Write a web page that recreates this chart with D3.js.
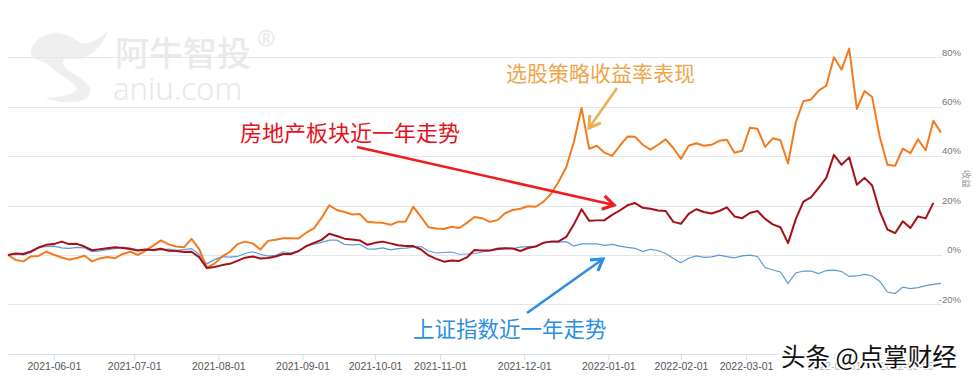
<!DOCTYPE html>
<html><head><meta charset="utf-8">
<script src="https://cdn.jsdelivr.net/npm/d3@7"></script>
<style>html,body{margin:0;padding:0;background:#fff;} svg{display:block;}</style>
</head><body>
<svg id="c" width="974" height="382"></svg>
<script>
// one value every 2 trading days, starting 2021-05-14 (percent)
const strategy = [0,-2.0,-2.6,-0.6,-0.4,1.4,0.1,-1.0,-1.9,-1.2,
-0.3,-2.6,-1.4,-0.8,-1.3,0.4,1.3,0.0,1.8,3.8,
5.9,4.3,3.4,3.1,6.5,2.4,-5.1,-3.5,-0.6,1.2,
4.4,5.4,4.7,2.2,5.7,6.2,6.8,6.8,6.7,9.0,
10.8,15.0,20.1,18.2,17.4,16.4,16.6,13.4,13.1,13.0,
12.2,13.4,13.5,19.5,15.4,11.2,10.7,10.5,11.4,10.9,
13.0,15.4,14.9,13.4,14.1,16.9,18.2,18.7,19.7,19.5,
21.5,24.7,29.6,35.5,45.8,59.5,43.0,44.2,41.4,40.1,
44.2,47.9,47.8,44.6,42.6,44.6,46.8,43.3,38.9,44.2,
45.2,44.2,44.6,46.2,46.6,41.4,42.2,51.5,51.1,43.8,
47.2,46.4,37.0,53.5,62.2,62.9,66.5,68.5,80.0,75.0,
83.5,59.1,66.3,63.9,47.6,36.5,36.1,43.0,41.2,46.8,
42.4,54.3,49.5];
const realEstate = [0,0.6,0.4,1.4,3.0,4.1,4.4,5.4,4.4,4.5,
3.4,1.9,2.3,2.7,3.1,2.8,2.4,1.8,2.2,2.0,
2.5,1.7,1.6,1.2,1.3,-0.9,-5.3,-4.9,-4.1,-3.6,
-2.4,-1.1,-0.6,-1.4,-1.2,-0.6,0.4,0.4,1.6,3.6,
4.9,6.1,8.6,7.7,6.6,6.3,5.9,4.1,4.9,5.4,
4.7,3.9,3.6,3.6,2.2,-0.2,-1.6,-2.7,-2.2,-2.4,
-1.0,2.0,1.8,1.8,2.4,2.6,2.6,1.6,2.8,3.4,
4.9,5.4,5.5,7.3,12.4,18.5,13.8,14.0,14.1,16.2,
18.0,20.1,21.0,19.1,18.7,18.0,17.8,13.4,12.6,16.6,
18.5,17.4,16.8,17.8,19.3,15.6,14.9,17.0,17.8,14.6,
12.4,11.2,4.8,14.4,21.6,23.3,27.2,31.2,40.5,36.5,
39.5,28.4,31.2,28.1,17.6,10.3,8.8,13.6,10.9,15.6,
14.8,21.1,null];
const sse = [0,0.4,0,1.0,3.2,3.4,3.6,2.9,2.7,3.1,
2.9,1.3,1.6,2.1,2.6,3.2,2.8,2.0,2.0,1.7,
2.1,2.4,1.9,2.2,2.6,0.2,-3.6,-1.9,-0.7,-0.9,
-0.6,0.6,1.3,0.3,-0.5,-0.2,1.3,0.8,1.6,3.5,
4.4,5.1,6.0,6.0,4.3,4.1,4.3,2.5,2.4,2.9,
2.1,2.6,2.8,3.2,3.4,1.6,0.8,1.0,1.2,0.3,
0.4,0.6,1.2,1.7,2.8,3.0,2.6,3.2,3.4,3.6,
4.9,5.4,5.2,5.4,3.6,4.5,4.5,4.5,3.9,4.3,
3.6,3.1,2.7,1.4,2.3,1.8,0.6,-1.4,-3.2,-1.3,
-0.4,-1.0,-0.8,-0.1,-0.7,-1.2,-0.4,-0.1,-0.6,-5.1,
-6.1,-6.9,-11.5,-7.3,-6.5,-6.5,-7.5,-6.3,-6.1,-6.7,
-8.7,-8.5,-7.9,-8.5,-10.7,-15.0,-15.6,-13.0,-13.6,-13.2,
-12.4,-11.9,-11.5];
const tickLabels = ["2021-06-01","2021-07-01","2021-08-01","2021-09-01","2021-10-01","2021-11-01","2021-12-01","2022-01-01","2022-02-01","2022-03-01","2022-04-01","2022-05-05"];
const tickDays = [12,33,55,77,96,113,135,157,176,193,216,235];
const yTicks = [-20,0,20,40,60,80];
const dayStep = 2, lastDay = 244;

const svg = d3.select("#c");
const x = d3.scaleLinear().domain([0, lastDay]).range([8, 941]);
const y = d3.scaleLinear().domain([-40, 80]).range([353.8, 57.3]);

// watermark logo (behind)
const wm = svg.append("g");
wm.append("path")
  .attr("d","M31,52 C33,36 58,26 76,40 C86,48 96,41 108,31 C101,50 86,61 70,59 C62,58 59,63 69,71 C86,81 97,89 86,99 C76,104 56,103 45,98 C60,97 74,95 77,89 C74,81 55,73 48,64 C40,60 31,60 31,52 Z")
  .attr("fill","#efefef");
wm.append("text").attr("x",115).attr("y",66).text("阿牛智投")
  .attr("font-family","Noto Sans CJK SC").attr("font-size",34).attr("font-weight",500).attr("fill","#eaeaea");
wm.append("text").attr("x",257).attr("y",46).text("®")
  .attr("font-family","Noto Sans").attr("font-size",22).attr("fill","#e8e8e8");
wm.append("text").attr("x",113).attr("y",100).text("aniu.com")
  .attr("font-family","Noto Sans").attr("font-size",31).attr("font-weight",300).attr("fill","#e8e8e8");

// gridlines + right labels
svg.append("g").selectAll("line").data(yTicks).join("line")
  .attr("x1", x(0)).attr("x2", x(lastDay)+1)
  .attr("y1", d=>Math.round(y(d))+0.5).attr("y2", d=>Math.round(y(d))+0.5)
  .attr("stroke","#e6e6e6").attr("stroke-width",1);
svg.append("g").selectAll("text").data(yTicks).join("text")
  .attr("x", 961).attr("y", d=>y(d)-5).attr("dy","0.35em")
  .attr("text-anchor","end").attr("font-family","Liberation Sans, Arial").attr("font-size",9.5).attr("fill","#777")
  .text(d=>d+"%");
svg.append("text").attr("transform","translate(963,170) rotate(90)")
  .attr("font-family","Noto Sans CJK SC").attr("font-size",9).attr("fill","#999").text("收益");

// bottom axis
const ax = svg.append("g").attr("transform","translate(0,354)")
  .call(d3.axisBottom(x).tickValues(tickDays).tickFormat((d,i)=>tickLabels[i]).tickSize(6).tickSizeOuter(0).tickPadding(3));
ax.select(".domain").attr("stroke","#d6dfeb");
ax.selectAll(".tick line").attr("stroke","#d6dfeb");
ax.selectAll(".tick text").attr("font-family","Liberation Sans, Arial").attr("font-size",10.5).attr("fill","#555");

// series
const line = d3.line().defined(d=>d!=null).x((d,i)=>x(i*dayStep)).y(d=>y(d));
svg.append("path").datum(sse).attr("d",line).attr("fill","none").attr("stroke","#5b9bd5").attr("stroke-width",1.2);
svg.append("path").datum(strategy).attr("d",line).attr("fill","none").attr("stroke","#f47a1f").attr("stroke-width",2).attr("stroke-linejoin","round");
svg.append("path").datum(realEstate).attr("d",line).attr("fill","none").attr("stroke","#a70f18").attr("stroke-width",2).attr("stroke-linejoin","round");

// annotations
function arrow(x1,y1,x2,y2,color,w){
  const g = svg.append("g");
  g.append("line").attr("x1",x1).attr("y1",y1).attr("x2",x2).attr("y2",y2)
    .attr("stroke",color).attr("stroke-width",w);
  const a = Math.atan2(y2-y1,x2-x1), L=13, s=0.55;
  g.append("path").attr("d",`M${x2-L*Math.cos(a-s)},${y2-L*Math.sin(a-s)}L${x2},${y2}L${x2-L*Math.cos(a+s)},${y2-L*Math.sin(a+s)}`)
    .attr("fill","none").attr("stroke",color).attr("stroke-width",w+0.5).attr("stroke-linejoin","miter");
}
arrow(357,147,614,205,"#f01c1c",2.6);
arrow(617,88,589,128,"#ebb055",2.6);
arrow(527,313,603,259,"#2c8fe0",2.6);

const cjk = "Noto Sans CJK SC";
svg.append("text").attr("x",506).attr("y",81).text("选股策略收益率表现")
  .attr("font-family",cjk).attr("font-size",21).attr("fill","#eea64b");
svg.append("text").attr("x",240).attr("y",141).text("房地产板块近一年走势")
  .attr("font-family",cjk).attr("font-size",22).attr("fill","#e8101c");
svg.append("text").attr("x",413).attr("y",337).text("上证指数近一年走势")
  .attr("font-family",cjk).attr("font-size",21.5).attr("fill","#2c8fe0");

// toutiao watermark
svg.append("rect").attr("x",776).attr("y",343).attr("width",190).attr("height",28).attr("fill","#fff").attr("opacity",0.55);
svg.append("text").attr("x",781).attr("y",366).text("头条 @点掌财经")
  .attr("font-family",cjk).attr("font-size",24.5).attr("fill","#111")
  .attr("stroke","#fff").attr("stroke-width",2.5).attr("paint-order","stroke");
</script>
</body></html>
